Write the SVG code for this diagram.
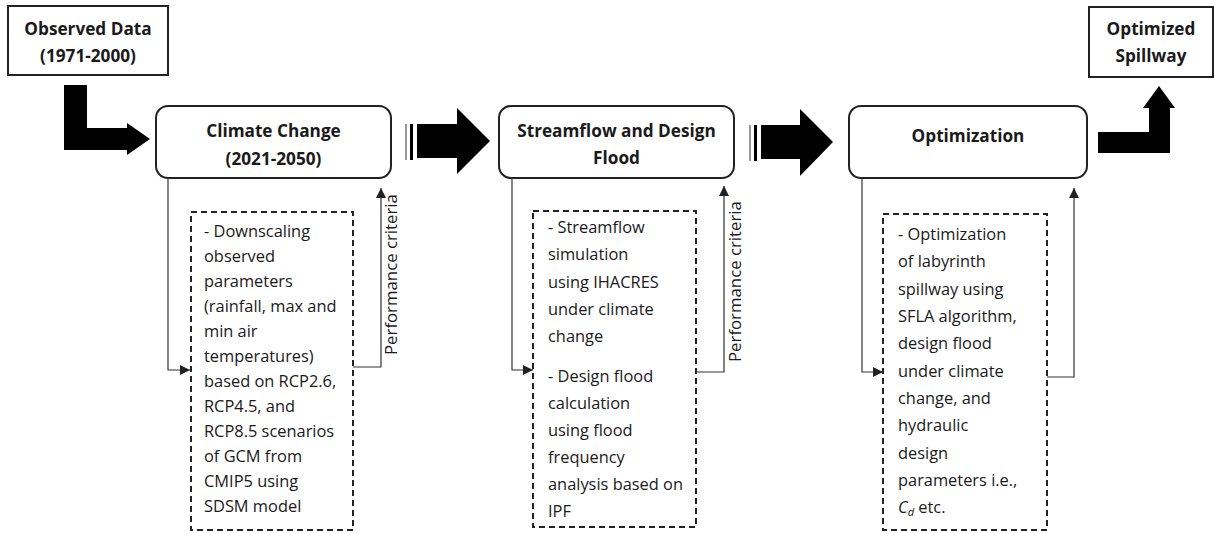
<svg xmlns="http://www.w3.org/2000/svg" width="1214" height="533" viewBox="0 0 1214 533">
<defs>
<marker id="ah" viewBox="0 0 10 10" refX="10" refY="5" markerWidth="10" markerHeight="10" markerUnits="userSpaceOnUse" orient="auto">
<path d="M0,0 L10,5 L0,10 Z" fill="#222"/>
</marker>
<style>
.box{fill:#fff;stroke:#222;stroke-width:2}
.dash{fill:none;stroke:#222;stroke-width:2;stroke-dasharray:6 4}
.title{font-family:"Open Sans",sans-serif;font-weight:bold;font-size:17.2px;fill:#1a1a1a;text-anchor:middle}
.body{font-family:"Open Sans",sans-serif;font-size:16.4px;fill:#1a1a1a}
.conn{fill:none;stroke:#333;stroke-width:1.2}
.big{fill:#000}
.pc{font-family:"Open Sans",sans-serif;font-size:16.8px;fill:#1a1a1a}
</style>
</defs>
<rect width="1214" height="533" fill="#fff"/>

<g id="observed">
<rect class="box" x="8" y="6" width="160" height="69"/>
<text class="title" x="88" y="35">Observed Data</text>
<text class="title" x="88" y="62">(1971-2000)</text>
</g>

<g id="climate">
<rect class="box" x="156" y="106" width="235" height="72" rx="12"/>
<text class="title" x="273.5" y="137">Climate Change</text>
<text class="title" x="273.5" y="165">(2021-2050)</text>
</g>

<g id="climate-detail">
<rect class="dash" x="191" y="212" width="162" height="318"/>
<text class="body">
<tspan x="204" y="237">- Downscaling</tspan>
<tspan x="204" y="262">observed</tspan>
<tspan x="204" y="287">parameters</tspan>
<tspan x="204" y="312">(rainfall, max and</tspan>
<tspan x="204" y="337">min air</tspan>
<tspan x="204" y="362">temperatures)</tspan>
<tspan x="204" y="387">based on RCP2.6,</tspan>
<tspan x="204" y="412">RCP4.5, and</tspan>
<tspan x="204" y="437">RCP8.5 scenarios</tspan>
<tspan x="204" y="462">of GCM from</tspan>
<tspan x="204" y="487">CMIP5 using</tspan>
<tspan x="204" y="512">SDSM model</tspan>
</text>
</g>

<g id="streamflow">
<rect class="box" x="499" y="106" width="235" height="72" rx="12"/>
<text class="title" x="616.5" y="137">Streamflow and Design</text>
<text class="title" x="616.5" y="164">Flood</text>
</g>

<g id="streamflow-detail">
<rect class="dash" x="533" y="211" width="163" height="316"/>
<text class="body">
<tspan x="548" y="233">- Streamflow</tspan>
<tspan x="548" y="260">simulation</tspan>
<tspan x="548" y="288">using IHACRES</tspan>
<tspan x="548" y="315">under climate</tspan>
<tspan x="548" y="342">change</tspan>
<tspan x="548" y="382">- Design flood</tspan>
<tspan x="548" y="409">calculation</tspan>
<tspan x="548" y="436">using flood</tspan>
<tspan x="548" y="463">frequency</tspan>
<tspan x="548" y="490">analysis based on</tspan>
<tspan x="548" y="517">IPF</tspan>
</text>
</g>

<g id="optimization">
<rect class="box" x="849" y="106" width="238" height="72" rx="12"/>
<text class="title" x="968" y="142">Optimization</text>
</g>

<g id="optimization-detail">
<rect class="dash" x="883" y="214" width="164" height="316"/>
<text class="body">
<tspan x="898" y="240">- Optimization</tspan>
<tspan x="898" y="267">of labyrinth</tspan>
<tspan x="898" y="295">spillway using</tspan>
<tspan x="898" y="322">SFLA algorithm,</tspan>
<tspan x="898" y="349">design flood</tspan>
<tspan x="898" y="377">under climate</tspan>
<tspan x="898" y="404">change, and</tspan>
<tspan x="898" y="431">hydraulic</tspan>
<tspan x="898" y="459">design</tspan>
<tspan x="898" y="486">parameters i.e.,</tspan>
<tspan x="898" y="513"><tspan font-style="italic">C</tspan><tspan font-style="italic" font-size="11px" dy="3">d</tspan><tspan dy="-3"> etc.</tspan></tspan>
</text>
</g>

<g id="spillway">
<rect class="box" x="1089" y="7" width="124" height="70"/>
<text class="title" x="1151" y="35">Optimized</text>
<text class="title" x="1151" y="62">Spillway</text>
</g>

<g id="connectors">
<path class="big" d="M64,85 L87,85 L87,128 L127,128 L127,123 L150,139 L127,155 L127,150 L64,150 Z"/>
<rect x="405" y="124" width="2" height="36" fill="#999"/>
<rect x="410" y="124" width="3" height="36" fill="#000"/>
<path class="big" d="M417,124 L457,124 L457,108 L490,141 L457,174 L457,158 L417,158 Z"/>
<rect x="749" y="125" width="2" height="36" fill="#999"/>
<rect x="754" y="125" width="3" height="36" fill="#000"/>
<path class="big" d="M761,125 L800,125 L800,109 L833,142 L800,176 L800,159 L761,159 Z"/>
<path class="big" d="M1098,132 L1149,132 L1149,108 L1143,108 L1159,86 L1175,108 L1170,108 L1170,153 L1098,153 Z"/>

<path class="conn" d="M168,178 L168,370 L190,370" marker-end="url(#ah)"/>
<path class="conn" d="M353,367 L381,367 L381,188" marker-end="url(#ah)"/>
<text class="pc" transform="translate(397,355) rotate(-90)">Performance criteria</text>

<path class="conn" d="M512,178 L512,370 L533,370" marker-end="url(#ah)"/>
<path class="conn" d="M696,372 L724,372 L724,186" marker-end="url(#ah)"/>
<text class="pc" transform="translate(741,362) rotate(-90)">Performance criteria</text>

<path class="conn" d="M862,178 L862,372 L883,372" marker-end="url(#ah)"/>
<path class="conn" d="M1047,377 L1074,377 L1074,188" marker-end="url(#ah)"/>
</g>
</svg>
